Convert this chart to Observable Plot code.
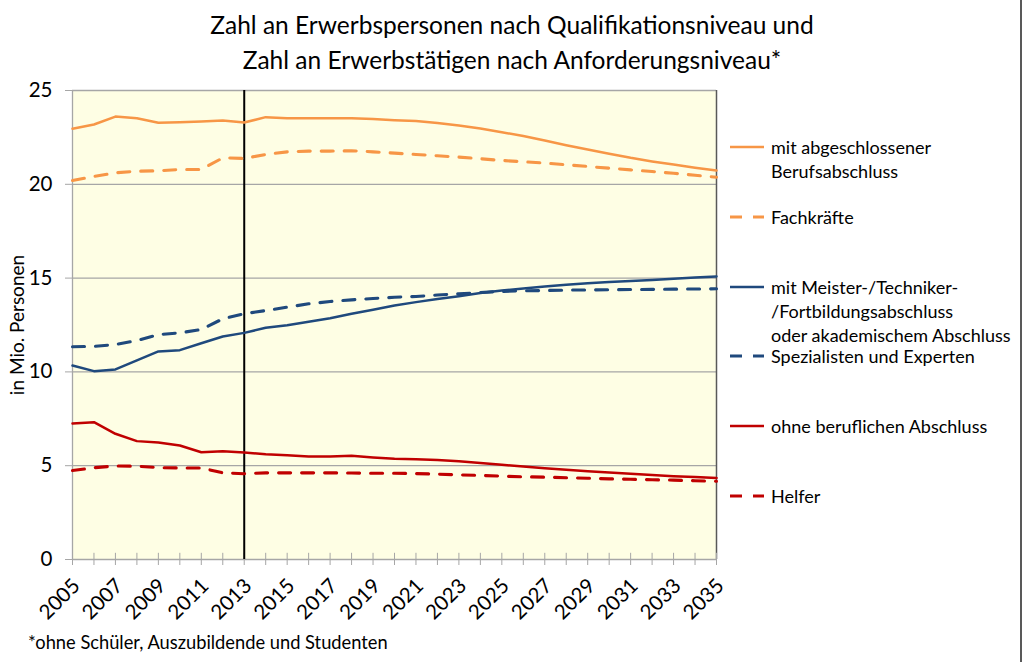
<!DOCTYPE html>
<html>
<head>
<meta charset="utf-8">
<script src="https://cdn.jsdelivr.net/npm/d3@7"></script>
<script src="https://cdn.jsdelivr.net/npm/@observablehq/plot@0.6"></script>
<style>
  html, body { margin: 0; padding: 0; background: #fff; }
  #wrap { position: relative; width: 1024px; height: 662px; overflow: hidden; font-family: Lato, "Open Sans", sans-serif; color: #000; }
  #title { position: absolute; left: 0; top: 7px; width: 1024px; text-align: center; font-size: 24.5px; line-height: 35px; }
  #chart { position: absolute; left: 0; top: 70px; }
  #legend { position: absolute; left: 0; top: 0; }
  .leg { position: absolute; left: 729px; font-size: 18px; line-height: 24px; white-space: nowrap; }
  .leg svg { position: absolute; left: 0; top: 12px; overflow: visible; }
  .leg .txt { position: absolute; left: 42px; top: 0; }
  #caption { position: absolute; left: 28px; top: 631px; font-size: 18.3px; }
  #rborder { position: absolute; left: 1020px; top: 0; width: 2px; height: 662px; background: #595959; }
</style>
</head>
<body>
<div id="wrap">
  <div id="title"></div>
  <div id="chart"></div>
  <div id="legend"></div>
  <div id="caption"></div>
  <div id="rborder"></div>
</div>
<script>
// ---- Data ----
const years = d3.range(2005, 2036);
const labelYears = [2005, 2007, 2009, 2011, 2013, 2015, 2017, 2019, 2021, 2023, 2025, 2027, 2029, 2031, 2033, 2035];
const yTicks = [0, 5, 10, 15, 20, 25];

const berufsabschluss = [22.96, 23.19, 23.61, 23.52, 23.28, 23.31, 23.35, 23.40, 23.29, 23.58, 23.52, 23.52, 23.52, 23.52, 23.48, 23.42, 23.37, 23.27, 23.13, 22.97, 22.78, 22.57, 22.33, 22.08, 21.85, 21.63, 21.41, 21.22, 21.05, 20.88, 20.73];
const fachkraefte = [20.20, 20.42, 20.61, 20.70, 20.72, 20.79, 20.79, 21.41, 21.38, 21.59, 21.73, 21.77, 21.77, 21.79, 21.73, 21.66, 21.59, 21.52, 21.45, 21.36, 21.27, 21.20, 21.13, 21.04, 20.95, 20.86, 20.77, 20.68, 20.59, 20.48, 20.38];
const meisterAkademisch = [10.34, 10.04, 10.13, 10.61, 11.09, 11.16, 11.53, 11.89, 12.08, 12.35, 12.49, 12.67, 12.86, 13.10, 13.31, 13.54, 13.72, 13.88, 14.03, 14.20, 14.34, 14.45, 14.55, 14.64, 14.73, 14.79, 14.84, 14.90, 14.96, 15.03, 15.09];
const spezialisten = [11.34, 11.36, 11.46, 11.67, 11.99, 12.08, 12.26, 12.83, 13.10, 13.27, 13.45, 13.63, 13.75, 13.84, 13.91, 13.98, 14.02, 14.10, 14.16, 14.23, 14.29, 14.32, 14.34, 14.36, 14.37, 14.38, 14.39, 14.40, 14.41, 14.42, 14.43];
const ohneAbschluss = [7.25, 7.32, 6.70, 6.31, 6.24, 6.08, 5.72, 5.77, 5.70, 5.61, 5.56, 5.49, 5.49, 5.53, 5.44, 5.37, 5.35, 5.30, 5.24, 5.15, 5.05, 4.96, 4.87, 4.79, 4.71, 4.64, 4.57, 4.50, 4.44, 4.40, 4.35];
const helfer = [4.74, 4.89, 4.99, 4.97, 4.90, 4.88, 4.88, 4.62, 4.57, 4.62, 4.62, 4.62, 4.62, 4.61, 4.60, 4.60, 4.58, 4.55, 4.51, 4.48, 4.44, 4.41, 4.39, 4.36, 4.33, 4.30, 4.28, 4.25, 4.23, 4.20, 4.17];

const seriesLabels = [
  ["mit abgeschlossener", "Berufsabschluss"],
  ["Fachkräfte"],
  ["mit Meister-/Techniker-", "/Fortbildungsabschluss", "oder akademischem Abschluss"],
  ["Spezialisten und Experten"],
  ["ohne beruflichen Abschluss"],
  ["Helfer"]
];
const seriesValues = [berufsabschluss, fachkraefte, meisterAkademisch, spezialisten, ohneAbschluss, helfer];
const seriesColors = ["#F79646", "#F79646", "#1F497D", "#1F497D", "#C00000", "#C00000"];
const seriesDashed = [false, true, false, true, false, true];

const titleLines = ["Zahl an Erwerbspersonen nach Qualifikationsniveau und", "Zahl an Erwerbstätigen nach Anforderungsniveau*"];
const yLabel = "in Mio. Personen";
const caption = "*ohne Schüler, Auszubildende und Studenten";
const markerYear = 2013;

// ---- Render ----
document.getElementById("title").innerHTML = titleLines.join("<br>");
document.getElementById("caption").textContent = caption;

const DASH = "12,11";
const lineMarks = seriesValues.map((vals, i) =>
  Plot.line(years.map((y, j) => ({year: y, value: vals[j]})), {
    x: "year", y: "value",
    stroke: seriesColors[i], strokeWidth: seriesDashed[i] ? 3.1 : 2.5,
    strokeDasharray: seriesDashed[i] ? DASH : null,
    strokeLinejoin: "round"
  })
);

const chart = Plot.plot({
  width: 1024,
  height: 559,
  marginTop: 20,
  marginLeft: 72,
  marginRight: 308,
  marginBottom: 70,
  style: {fontFamily: "Lato, 'Open Sans', sans-serif", background: "transparent", color: "#000"},
  x: {domain: [2005, 2035]},
  y: {domain: [0, 25]},
  marks: [
    Plot.frame({fill: "#FEFEE4", stroke: "none"}),
    Plot.ruleY(yTicks.filter(d => d > 0), {stroke: "#A6A6A6", strokeWidth: 1.3}),
    Plot.ruleX([2005], {stroke: "#A6A6A6", strokeWidth: 1.3}),
    Plot.ruleX([2035], {stroke: "#595959", strokeWidth: 1.5}),
    Plot.ruleY([0], {stroke: "#A6A6A6", strokeWidth: 1.3}),
    Plot.ruleX(years, {x: d => d, y1: 0, y2: 0.33, stroke: "#A6A6A6", strokeWidth: 1}),
    Plot.axisX({ticks: years, tickSize: 6, tickFormat: () => "", stroke: "#A6A6A6", label: null}),
    Plot.axisY({ticks: yTicks, tickSize: 7, tickPadding: 13, fontSize: 20.5, stroke: "#A6A6A6", fill: "#000", label: null}),
    Plot.text(labelYears, {x: d => d, y: 0, text: d => String(d), rotate: -45, textAnchor: "end", dx: 4, dy: 23, fontSize: 20.5, fill: "#000"}),
    Plot.text([yLabel], {frameAnchor: "left", textAnchor: "middle", rotate: -90, dx: -55, fontSize: 19, fill: "#000"}),
    Plot.ruleX([markerYear], {stroke: "#000", strokeWidth: 2}),
    ...lineMarks
  ]
});
document.getElementById("chart").appendChild(chart);

// ---- Legend ----
const legendTops = [135, 205, 275, 344, 414, 484];
const legend = document.getElementById("legend");
seriesLabels.forEach((lines, i) => {
  const div = document.createElement("div");
  div.className = "leg";
  div.style.top = legendTops[i] + "px";
  const dashed = seriesDashed[i];
  div.innerHTML =
    `<svg width="36" height="4"><line x1="1" x2="35" y1="0" y2="0" stroke="${seriesColors[i]}" stroke-width="${dashed ? 3.1 : 2.5}" ${dashed ? 'stroke-dasharray="12,11"' : ""}/></svg>` +
    `<div class="txt">${lines.join("<br>")}</div>`;
  legend.appendChild(div);
});
</script>
</body>
</html>
